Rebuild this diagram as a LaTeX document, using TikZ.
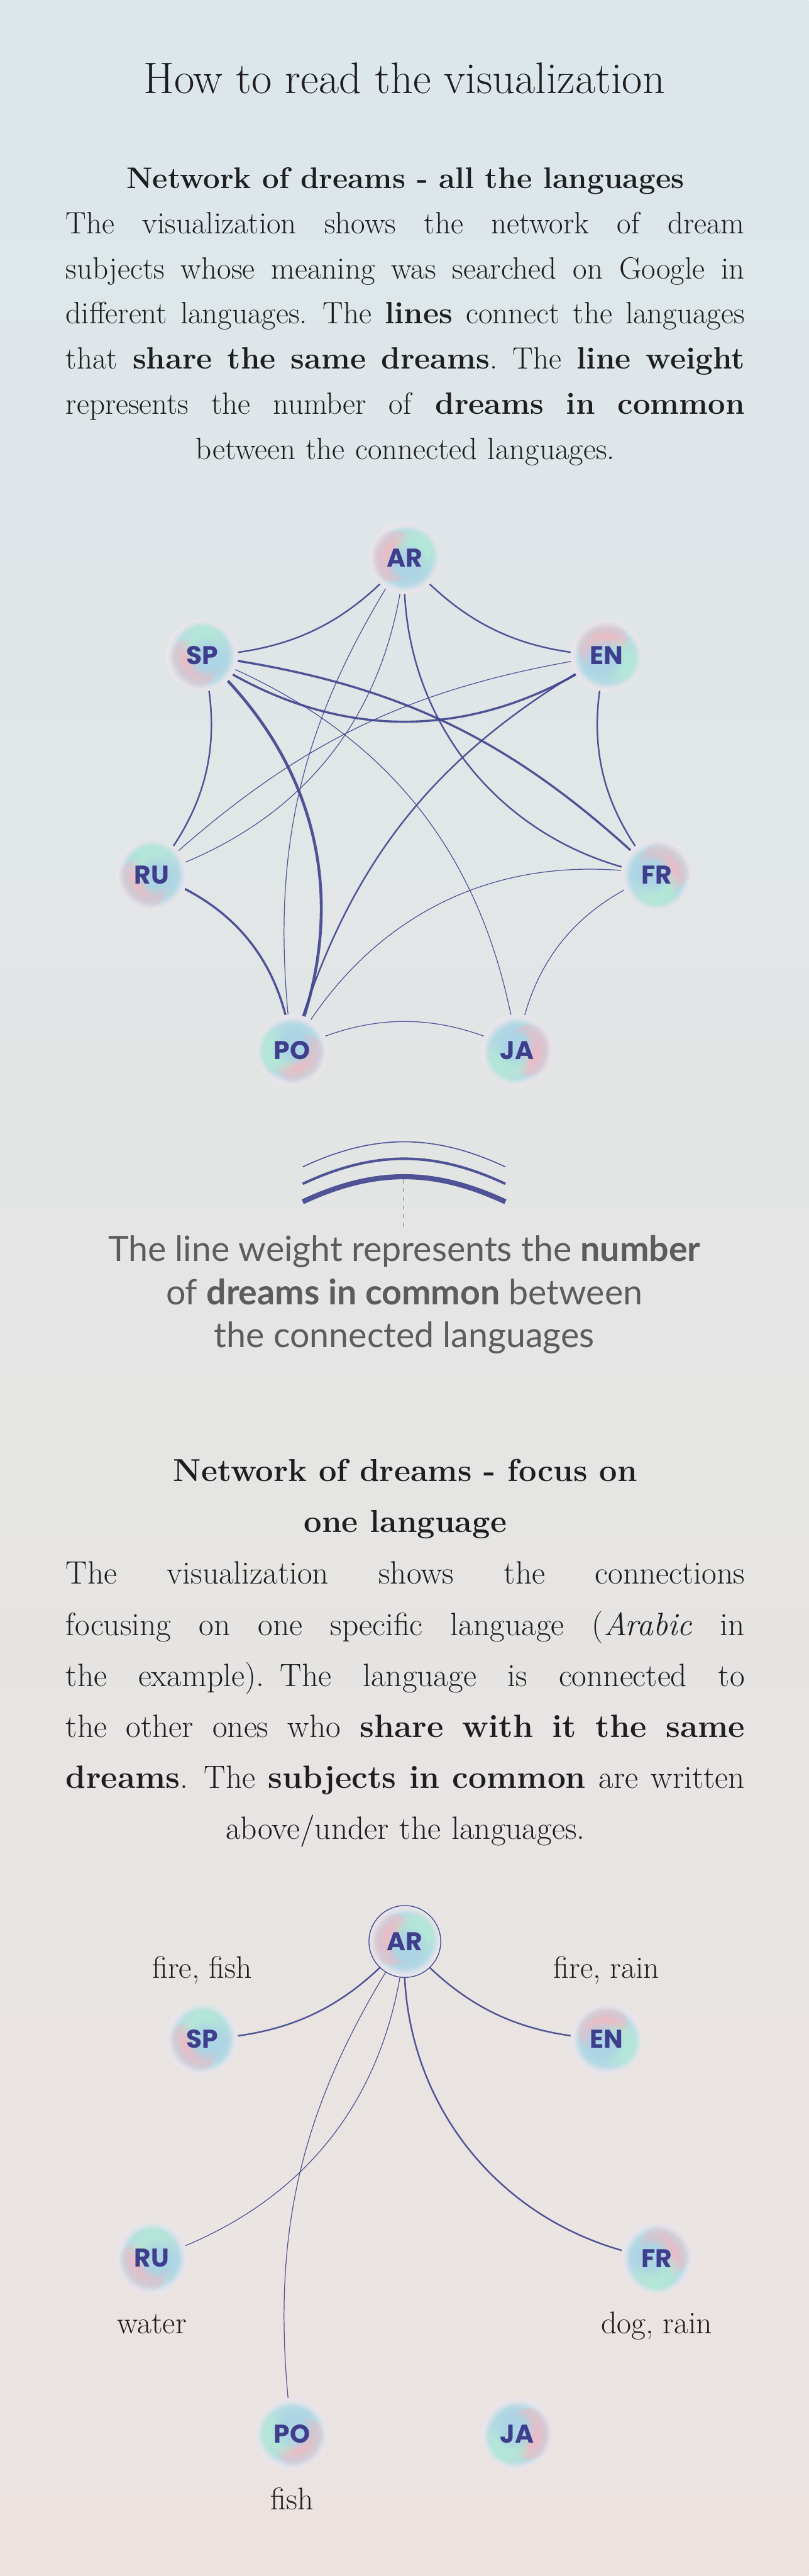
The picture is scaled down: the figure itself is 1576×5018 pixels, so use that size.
\documentclass[tikz,border=0pt]{standalone}
\usepackage{fontspec}
\newfontfamily\langfont{Poppins}
\newfontfamily\notefont{Lato}
\usetikzlibrary{positioning,backgrounds,fadings,calc}

\definecolor{bgtop}{RGB}{220,231,236}
\definecolor{bgmid}{RGB}{228,229,228}
\definecolor{bgbottom}{RGB}{236,227,225}
\definecolor{inkblack}{RGB}{30,30,30}
\definecolor{notegray}{RGB}{92,92,92}
\definecolor{linkblue}{RGB}{64,68,142}
\definecolor{langblue}{RGB}{62,62,140}
\definecolor{bubbleedge}{RGB}{234,230,235}
\definecolor{bubblecore}{RGB}{180,217,228}
\definecolor{bubblepink}{RGB}{236,188,197}
\definecolor{bubbleteal}{RGB}{180,230,216}
\definecolor{bubbleblue}{RGB}{172,212,228}

\pgfdeclareradialshading{bubbleshade}{\pgfpointorigin}{%
  color(0bp)=(bubblecore); color(18bp)=(bubblecore);
  color(25bp)=(bubbleedge); color(50bp)=(bubbleedge)}
\pgfdeclareradialshading{blobshade}{\pgfpointorigin}{%
  color(0bp)=(white); color(12bp)=(white); color(25bp)=(black); color(50bp)=(black)}
\pgfdeclareradialshading{rimshade}{\pgfpointorigin}{%
  color(0bp)=(black); color(20bp)=(black); color(25bp)=(white); color(50bp)=(white)}
\pgfdeclarefading{softblob}{\pgfuseshading{blobshade}}
\pgfdeclarefading{softrim}{\pgfuseshading{rimshade}}

% one justified line of a paragraph
\newcommand{\fullline}[1]{\leavevmode\hbox to 1323pt{\spaceskip=0.25em plus 1fil\relax #1}}

\tikzset{
  titletext/.style = {font=\fontsize{86}{96}\selectfont, text=inkblack, inner sep=0pt},
  headtext/.style  = {font=\bfseries\fontsize{58}{88}\selectfont, text=inkblack, inner sep=0pt},
  bodytext/.style  = {text width=1323pt, align=center, inner sep=0pt, text=inkblack},
  notetext/.style  = {font=\notefont\fontsize{68}{84}\selectfont, text=notegray,
                      align=center, inner sep=0pt},
  subjtext/.style  = {font=\fontsize{61}{64}\selectfont, text=inkblack, inner sep=0pt,
                      anchor=base},
  bubble/.style    = {circle, minimum size=140pt, inner sep=0pt, text=langblue,
                      font=\langfont\bfseries\fontsize{50}{50}\selectfont,
                      shading=bubbleshade,
                      path picture={
                        \fill[bubblepink, path fading=softblob]
                          (path picture bounding box.center) ++(#1:26pt) circle (50pt);
                        \fill[bubbleteal, path fading=softblob]
                          (path picture bounding box.center) ++(#1-135:30pt) circle (50pt);
                        \fill[bubbleblue, path fading=softblob]
                          (path picture bounding box.center) ++(#1+115:12pt) circle (44pt);
                        \fill[bubbleedge, path fading=softrim, fill opacity=0.9]
                          (path picture bounding box.center) circle (70pt);
                      }},
  link/.style      = {draw=linkblue, draw opacity=0.9, line cap=round},
  wthin/.style     = {link, line width=1.5pt},
  wmid/.style      = {link, line width=3pt},
  wthick/.style    = {link, line width=4.2pt},
  wmax/.style      = {link, line width=5.6pt},
}

\begin{document}
\begin{tikzpicture}[x=1pt, y=1pt]
  \useasboundingbox (0,0) rectangle (1576,-5018);
  \begin{scope}[on background layer]
    \shade[top color=bgtop, bottom color=bgbottom, middle color=bgmid]
      (0,0) rectangle (1576,-5018);
  \end{scope}

  % all the languages
  \node[titletext, anchor=base] (title) at (788,-182) {How to read the visualization};
  \node[headtext, anchor=base] (headall) at (790,-367) {Network of dreams - all the languages};
  \node[bodytext, anchor=north, font=\fontsize{60}{88}\selectfont] (introall) at (790,-393) {%
    \fullline{\strut The visualization shows the network of dream}\\
    \fullline{subjects whose meaning was searched on Google in}\\
    \fullline{different languages. The \textbf{lines} connect the languages}\\
    \fullline{that \textbf{share the same dreams}. The \textbf{line weight}}\\
    \fullline{represents the number of \textbf{dreams in common}}\\
    between the connected languages.};

  \foreach \n/\x/\y/\a in {AR/789/1087/170, SP/394/1277/220, EN/1182/1277/110,
                           RU/296/1704/225, FR/1280/1704/45, PO/569/2046/315,
                           JA/1008/2046/0}
    \node[bubble=\a] (\n) at (\x,-\y) {\n};

  \begin{scope}[on background layer]
    \draw[wmid]   (AR.center) to[bend left=23]  (SP.center);
    \draw[wmid]   (AR.center) to[bend right=23] (EN.center);
    \draw[wthin]  (AR.center) to[bend left=33]  (RU.center);
    \draw[wthin]  (AR.center) to[bend right=20] (PO.center);
    \draw[wmid]   (AR.center) to[bend right=42] (FR.center);
    \draw[wthick] (SP.center) to[bend right=34] (EN.center);
    \draw[wthick] (SP.center) to[bend left=18]  (FR.center);
    \draw[wmax]   (SP.center) to[bend left=35]  (PO.center);
    \draw[wthin]  (SP.center) to[bend left=30]  (JA.center);
    \draw[wmid]   (SP.center) to[bend left=27]  (RU.center);
    \draw[wmid]   (EN.center) to[bend right=27] (FR.center);
    \draw[wthin]  (EN.center) to[bend right=17] (RU.center);
    \draw[wmid]   (EN.center) to[bend right=22] (PO.center);
    \draw[wthick] (RU.center) to[bend left=32]  (PO.center);
    \draw[wthin]  (FR.center) to[bend right=35] (PO.center);
    \draw[wthin]  (FR.center) to[bend right=30] (JA.center);
    \draw[wthin]  (PO.center) to[bend left=26]  (JA.center);
  \end{scope}

  % line weight legend
  \coordinate (wl) at (590,-2273);
  \coordinate (wr) at (985,-2273);
  \draw[link, line width=2pt, line cap=butt] (wl) to[bend left=25] (wr);
  \draw[link, line width=5pt, line cap=butt]
    ([yshift=-33pt]wl) to[bend left=25] ([yshift=-33pt]wr);
  \draw[link, line width=10pt, line cap=butt]
    ([yshift=-68pt]wl) to[bend left=25] ([yshift=-68pt]wr);
  \draw[notegray, line width=1.3pt, dash pattern=on 8pt off 9pt]
    (787,-2297) -- (787,-2390);
  \node[notetext, anchor=north] (weightnote) at (788,-2398)
    {\strut The line weight represents the \textbf{number}\\
     of \textbf{dreams in common} between\\
     the connected languages};

  % focus on one language
  \node[headtext, anchor=north, align=center, font=\bfseries\fontsize{62}{100}\selectfont]
    (headone) at (790,-2815) {\strut Network of dreams - focus on\\ one language};
  \node[bodytext, anchor=north, font=\fontsize{63}{99.5}\selectfont] (introone) at (790,-3016) {%
    \fullline{\strut The visualization shows the connections}\\
    \fullline{focusing on one specific language (\emph{Arabic} in}\\
    \fullline{the example). The language is connected to}\\
    \fullline{the other ones who \textbf{share with it the same}}\\
    \fullline{\textbf{dreams}. The \textbf{subjects in common} are written}\\
    above/under the languages.};

  \foreach \n/\x/\y/\a in {AR/789/1087/170, SP/394/1277/220, EN/1182/1277/110,
                           RU/296/1704/225, FR/1280/1704/45, PO/569/2046/315,
                           JA/1008/2046/0}
    \node[bubble=\a] (f\n) at (\x,-\y-2695) {\n};
  \draw[linkblue, line width=1.6pt] (fAR.center) circle (70pt);

  \begin{scope}[on background layer]
    \draw[wmid]  (fAR.center) to[bend left=23]  (fSP.center);
    \draw[wmid]  (fAR.center) to[bend right=23] (fEN.center);
    \draw[wthin] (fAR.center) to[bend left=33]  (fRU.center);
    \draw[wthin] (fAR.center) to[bend right=20] (fPO.center);
    \draw[wmid]  (fAR.center) to[bend right=42] (fFR.center);
  \end{scope}

  \node[subjtext] (subjSP) at ([yshift=119pt]fSP.center)  {fire, fish};
  \node[subjtext] (subjEN) at ([yshift=119pt]fEN.center)  {fire, rain};
  \node[subjtext] (subjRU) at ([yshift=-147pt]fRU.center) {water};
  \node[subjtext] (subjFR) at ([yshift=-147pt]fFR.center) {dog, rain};
  \node[subjtext] (subjPO) at ([yshift=-148pt]fPO.center) {fish};
\end{tikzpicture}
\end{document}
